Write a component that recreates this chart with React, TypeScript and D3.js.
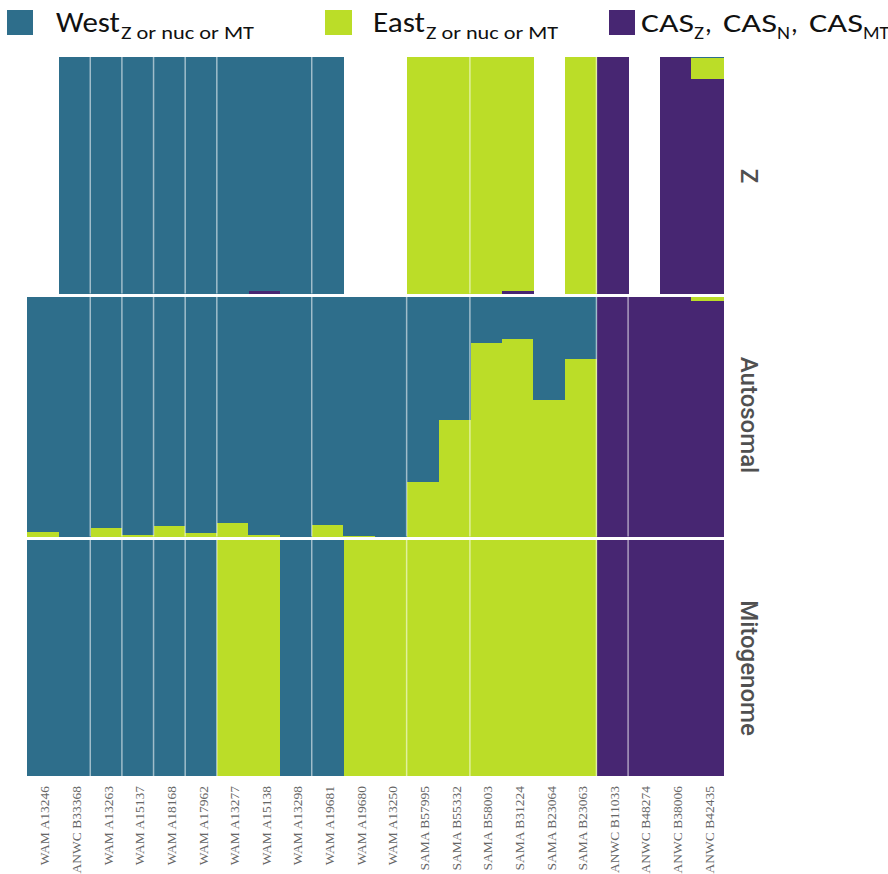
import React from "react";
import * as d3 from "d3";

const samples = [
  "WAM A13246", "ANWC B33368", "WAM A13263", "WAM A15137", "WAM A18168", "WAM A17962",
  "WAM A13277", "WAM A15138", "WAM A13298", "WAM A19681", "WAM A19680", "WAM A13250",
  "SAMA B57995", "SAMA B55332", "SAMA B58003", "SAMA B31224", "SAMA B23064", "SAMA B23063",
  "ANWC B11033", "ANWC B48274", "ANWC B38006", "ANWC B42435",
];

// Z chromosome (null = not sampled)
const zWest = [null, 1, 1, 1, 1, 1, 1, 0.988, 1, 1, null, null, 0, 0, 0, 0, null, 0, 0, null, 0, 0.006];
const zEast = [null, 0, 0, 0, 0, 0, 0, 0, 0, 0, null, null, 1, 1, 1, 0.988, null, 1, 0, null, 0, 0.087];
const zCas = [null, 0, 0, 0, 0, 0, 0, 0.012, 0, 0, null, null, 0, 0, 0, 0.012, null, 0, 1, null, 1, 0.907];

// Autosomal
const autoWest = [0.982, 1, 0.965, 0.995, 0.955, 0.986, 0.944, 0.995, 1, 0.953, 0.996, 1, 0.773, 0.515, 0.19, 0.176, 0.431, 0.26, 0, 0, 0, 0];
const autoEast = [0.018, 0, 0.035, 0.005, 0.045, 0.014, 0.056, 0.005, 0, 0.047, 0.004, 0, 0.227, 0.485, 0.81, 0.824, 0.569, 0.74, 0, 0, 0, 0.017];
const autoCas = [0, 0, 0, 0, 0, 0, 0, 0, 0, 0, 0, 0, 0, 0, 0, 0, 0, 0, 1, 1, 1, 0.983];

// Mitogenome
const mitoWest = [1, 1, 1, 1, 1, 1, 0, 0, 1, 1, 0, 0, 0, 0, 0, 0, 0, 0, 0, 0, 0, 0];
const mitoEast = [0, 0, 0, 0, 0, 0, 1, 1, 0, 0, 1, 1, 1, 1, 1, 1, 1, 1, 0, 0, 0, 0];
const mitoCas = [0, 0, 0, 0, 0, 0, 0, 0, 0, 0, 0, 0, 0, 0, 0, 0, 0, 0, 1, 1, 1, 1];

const panelNames = ["Z", "Autosomal", "Mitogenome"];
const groupStarts = [2, 3, 4, 5, 6, 9, 12, 14, 18, 19];

const keys = ["CAS", "East", "West"];
const colors: Record<string, string> = { West: "#2e6e8b", East: "#bbdd28", CAS: "#472672" };

const W = 888;
const H = 874;

export default function App() {
  const x = d3.scaleBand<string>().domain(samples).range([27, 723]).padding(0);
  const panels = [
    { name: panelNames[0], top: 57, bottom: 293.5, west: zWest, east: zEast, cas: zCas },
    { name: panelNames[1], top: 297, bottom: 536.5, west: autoWest, east: autoEast, cas: autoCas },
    { name: panelNames[2], top: 540, bottom: 776, west: mitoWest, east: mitoEast, cas: mitoCas },
  ];
  const labelY = [176, 415, 668];

  return (
    <svg width={W} height={H} style={{ position: "absolute", left: 0, top: 0, background: "#fff" }}>
      {/* Legend */}
      <g fontFamily="Carlito, Lato, 'Open Sans', sans-serif" fill="#111">
        <rect x={7} y={10} width={26} height={25} fill={colors.West} />
        <text x={56} y={32} fontSize={29} textLength={64} lengthAdjust="spacingAndGlyphs">West</text>
        <text x={121} y={39} fontSize={19} textLength={133} lengthAdjust="spacingAndGlyphs">Z or nuc or MT</text>

        <rect x={325} y={10} width={27} height={25} fill={colors.East} />
        <text x={373} y={32} fontSize={29} textLength={52} lengthAdjust="spacingAndGlyphs">East</text>
        <text x={426} y={39} fontSize={19} textLength={132} lengthAdjust="spacingAndGlyphs">Z or nuc or MT</text>

        <rect x={609} y={10} width={26} height={25} fill={colors.CAS} />
        <text x={641} y={32} fontSize={27} textLength={53} lengthAdjust="spacingAndGlyphs">CAS</text>
        <text x={694} y={39} fontSize={18} textLength={10} lengthAdjust="spacingAndGlyphs">Z</text>
        <text x={705} y={32} fontSize={27}>,</text>
        <text x={723} y={32} fontSize={27} textLength={54} lengthAdjust="spacingAndGlyphs">CAS</text>
        <text x={777} y={39} fontSize={18} textLength={13} lengthAdjust="spacingAndGlyphs">N</text>
        <text x={791} y={32} fontSize={27}>,</text>
        <text x={809} y={32} fontSize={27} textLength={54} lengthAdjust="spacingAndGlyphs">CAS</text>
        <text x={863} y={39} fontSize={18} textLength={26} lengthAdjust="spacingAndGlyphs">MT</text>
      </g>

      {panels.map((p, pi) => {
        const y = d3.scaleLinear().domain([0, 1]).range([p.bottom, p.top]);
        const rows = samples.map((s, i) => ({
          sample: s,
          present: p.west[i] !== null,
          West: (p.west[i] ?? 0) as number,
          East: (p.east[i] ?? 0) as number,
          CAS: (p.cas[i] ?? 0) as number,
        }));
        const series = d3.stack<any>().keys(keys)(rows);
        return (
          <g key={p.name}>
            {series.map((ser) => (
              <g key={ser.key} fill={colors[ser.key]}>
                {ser.map((d, i) =>
                  rows[i].present && d[1] - d[0] > 0 ? (
                    <rect
                      key={i}
                      x={x(rows[i].sample)!}
                      y={y(d[1])}
                      width={x.bandwidth() + 0.6}
                      height={y(d[0]) - y(d[1])}
                      shapeRendering="crispEdges"
                    />
                  ) : null
                )}
              </g>
            ))}
            {groupStarts.map((gi) =>
              rows[gi].present && rows[gi - 1].present ? (
                <line
                  key={gi}
                  x1={x(samples[gi])!}
                  x2={x(samples[gi])!}
                  y1={p.top}
                  y2={p.bottom}
                  stroke="#fff"
                  strokeOpacity={0.55}
                  strokeWidth={1.5}
                />
              ) : null
            )}
            <text
              transform={`translate(749,${labelY[pi]}) rotate(90)`}
              textAnchor="middle"
              dominantBaseline="central"
              fontFamily="Roboto, Arial, sans-serif"
              fontWeight={500}
              fontSize={24}
              fill="#505050"
            >
              {p.name}
            </text>
          </g>
        );
      })}

      {/* Sample labels */}
      <g fontFamily="'Liberation Serif', 'DejaVu Serif', serif" fontSize={13.5} fill="#666">
        {samples.map((s) => (
          <text
            key={s}
            transform={`translate(${x(s)! + x.bandwidth() / 2 + 2},786) rotate(-90)`}
            textAnchor="end"
            dominantBaseline="central"
          >
            {s}
          </text>
        ))}
      </g>
    </svg>
  );
}
